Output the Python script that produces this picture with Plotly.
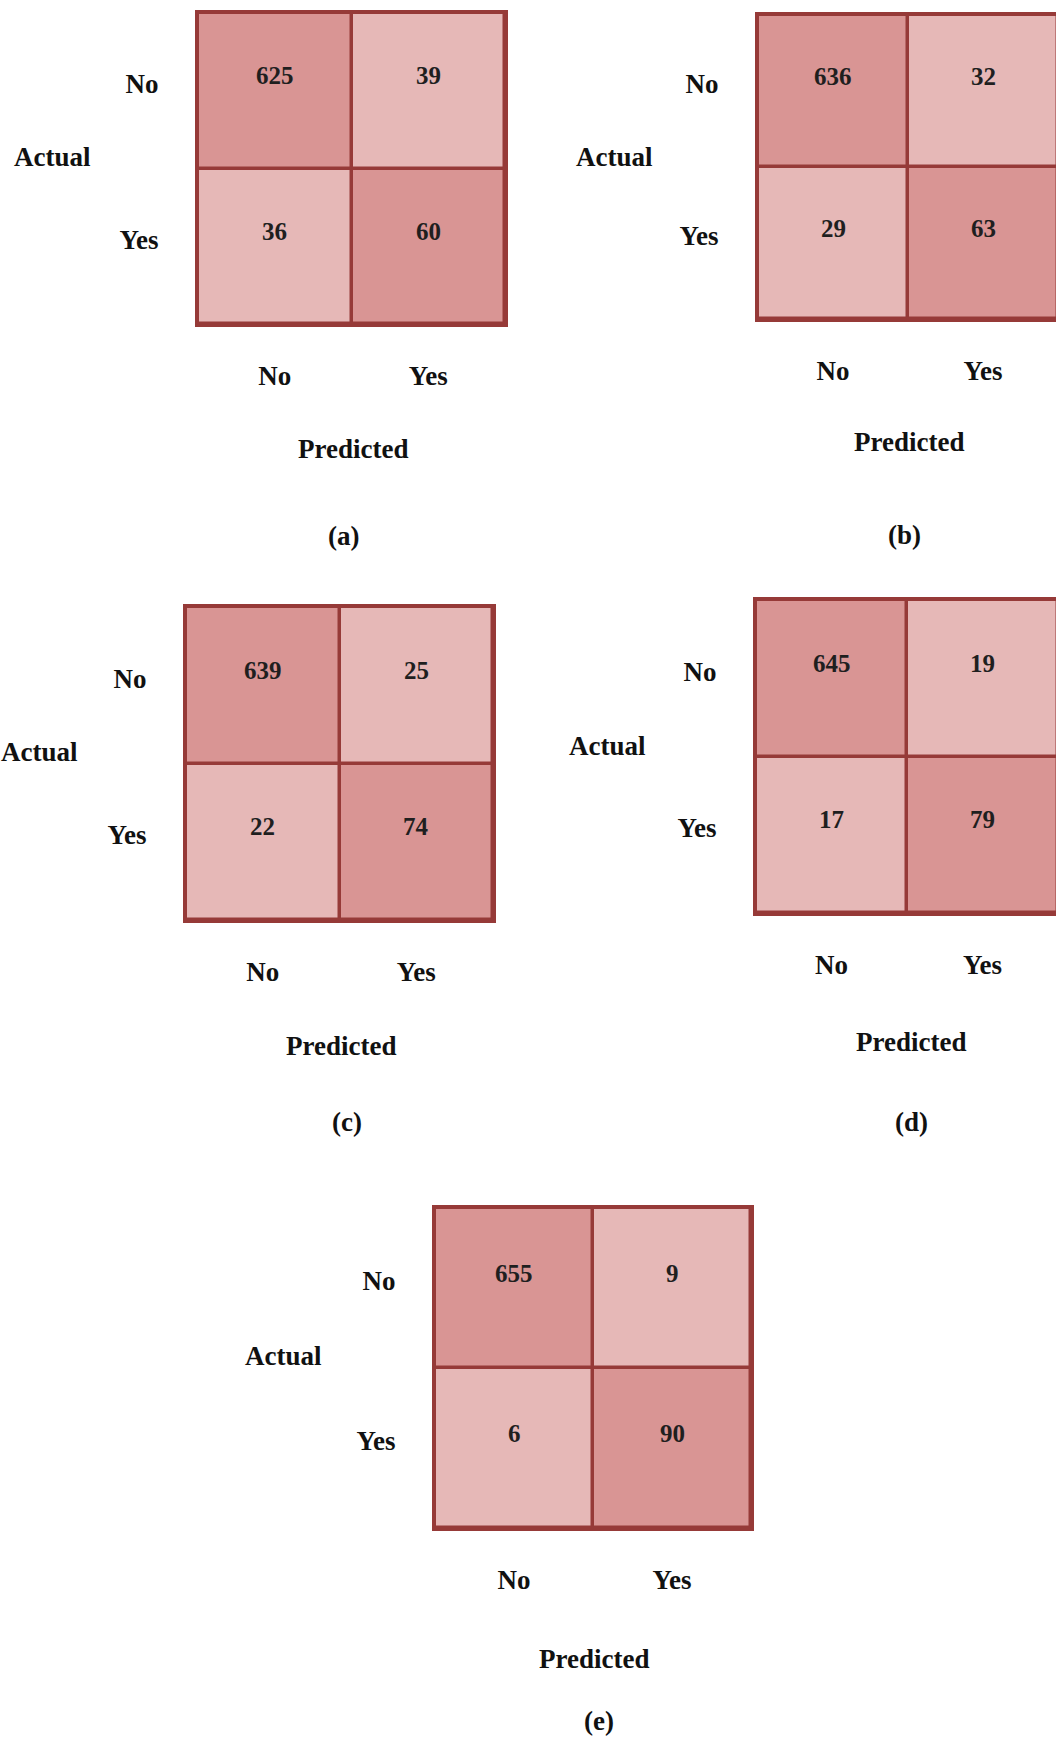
import plotly.graph_objects as go

# ---------------- data ----------------
categories = ["No", "Yes"]              # class labels (actual rows / predicted columns)
panel_labels = ["(a)", "(b)", "(c)", "(d)", "(e)"]
cm_a = [[625, 39], [36, 60]]
cm_b = [[636, 32], [29, 63]]
cm_c = [[639, 25], [22, 74]]
cm_d = [[645, 19], [17, 79]]
cm_e = [[655, 9], [6, 90]]
matrices = [cm_a, cm_b, cm_c, cm_d, cm_e]

# ---------------- layout / style ----------------
W, H = 1056, 1738
# pixel box of each matrix: x0, x1, y0, y1
boxes_px = [(198, 505, 13, 324), (758, 1058, 15, 319), (186, 493, 607, 920),
            (756, 1058, 600, 913), (435, 751, 1208, 1528)]
actual_pos = [(52, 157), (614, 157), (39, 752), (607, 746), (283, 1356)]
pred_pos = [(353, 449), (909, 442), (341, 1046), (911, 1042), (594, 1659)]
cap_pos = [(343, 536), (904, 535), (347, 1122), (911, 1122), (599, 1721)]

DARK = "#D99594"
LIGHT = "#E6B8B7"
BORDER = "#963A38"
FONT = "Liberation Serif"
LABEL_SIZE = 27
NUM_SIZE = 25

fig = go.Figure()
annotations = []

for k, (cm, box) in enumerate(zip(matrices, boxes_px)):
    x0, x1, y0, y1 = box
    idx = "" if k == 0 else str(k + 1)
    xa, ya = "x" + idx, "y" + idx
    # correct predictions (diagonal) dark, errors light
    z = [[1 if a == p else 0 for p in categories] for a in categories]
    fig.add_trace(go.Heatmap(
        x=categories, y=categories, z=z,
        colorscale=[[0, LIGHT], [1, DARK]], zmin=0, zmax=1,
        showscale=False, xgap=3.5, ygap=3.5, hoverinfo="skip",
        xaxis=xa, yaxis=ya,
    ))
    cut = x1 > W
    xr_max = -0.5 + 2 * (W - x0) / (x1 - x0) if cut else 1.5
    dom_x = [x0 / W, min(x1, W) / W]
    dom_y = [1 - y1 / H, 1 - y0 / H]
    xname = "xaxis" + idx
    yname = "yaxis" + idx
    fig.update_layout(**{
        xname: dict(domain=dom_x, anchor=ya, range=[-0.5, xr_max],
                    type="category", side="bottom", showgrid=False, zeroline=False,
                    showline=True, mirror=True, linecolor=BORDER, linewidth=3,
                    ticks="", ticklabelstandoff=26,
                    tickfont=dict(family=FONT, size=LABEL_SIZE, color="#111111", weight="bold")),
        yname: dict(domain=dom_y, anchor=xa, range=[1.5, -0.5],
                    type="category", showgrid=False, zeroline=False,
                    showline=True, mirror=not cut, linecolor=BORDER, linewidth=3,
                    ticks="", ticklabelstandoff=31, ticklabelshift=7,
                    tickfont=dict(family=FONT, size=LABEL_SIZE, color="#111111", weight="bold")),
    })
    # cell counts
    for i, a in enumerate(categories):
        for j, p in enumerate(categories):
            annotations.append(dict(
                x=p, y=a, xref=xa, yref=ya, text=str(cm[i][j]), showarrow=False,
                yshift=15, font=dict(family=FONT, size=NUM_SIZE, color="#1f1f1f", weight="bold"),
            ))
    # axis titles and panel caption
    for txt, (px, py) in (("Actual", actual_pos[k]), ("Predicted", pred_pos[k]),
                          (panel_labels[k], cap_pos[k])):
        annotations.append(dict(
            x=px / W, y=1 - py / H, xref="paper", yref="paper", text=txt,
            showarrow=False, xanchor="center", yanchor="middle",
            font=dict(family=FONT, size=LABEL_SIZE, color="#111111", weight="bold"),
        ))

fig.update_layout(
    width=W, height=H, margin=dict(l=0, r=0, t=0, b=0),
    paper_bgcolor="white", plot_bgcolor=BORDER,
    annotations=annotations, showlegend=False,
)

fig.write_html("out.html")
